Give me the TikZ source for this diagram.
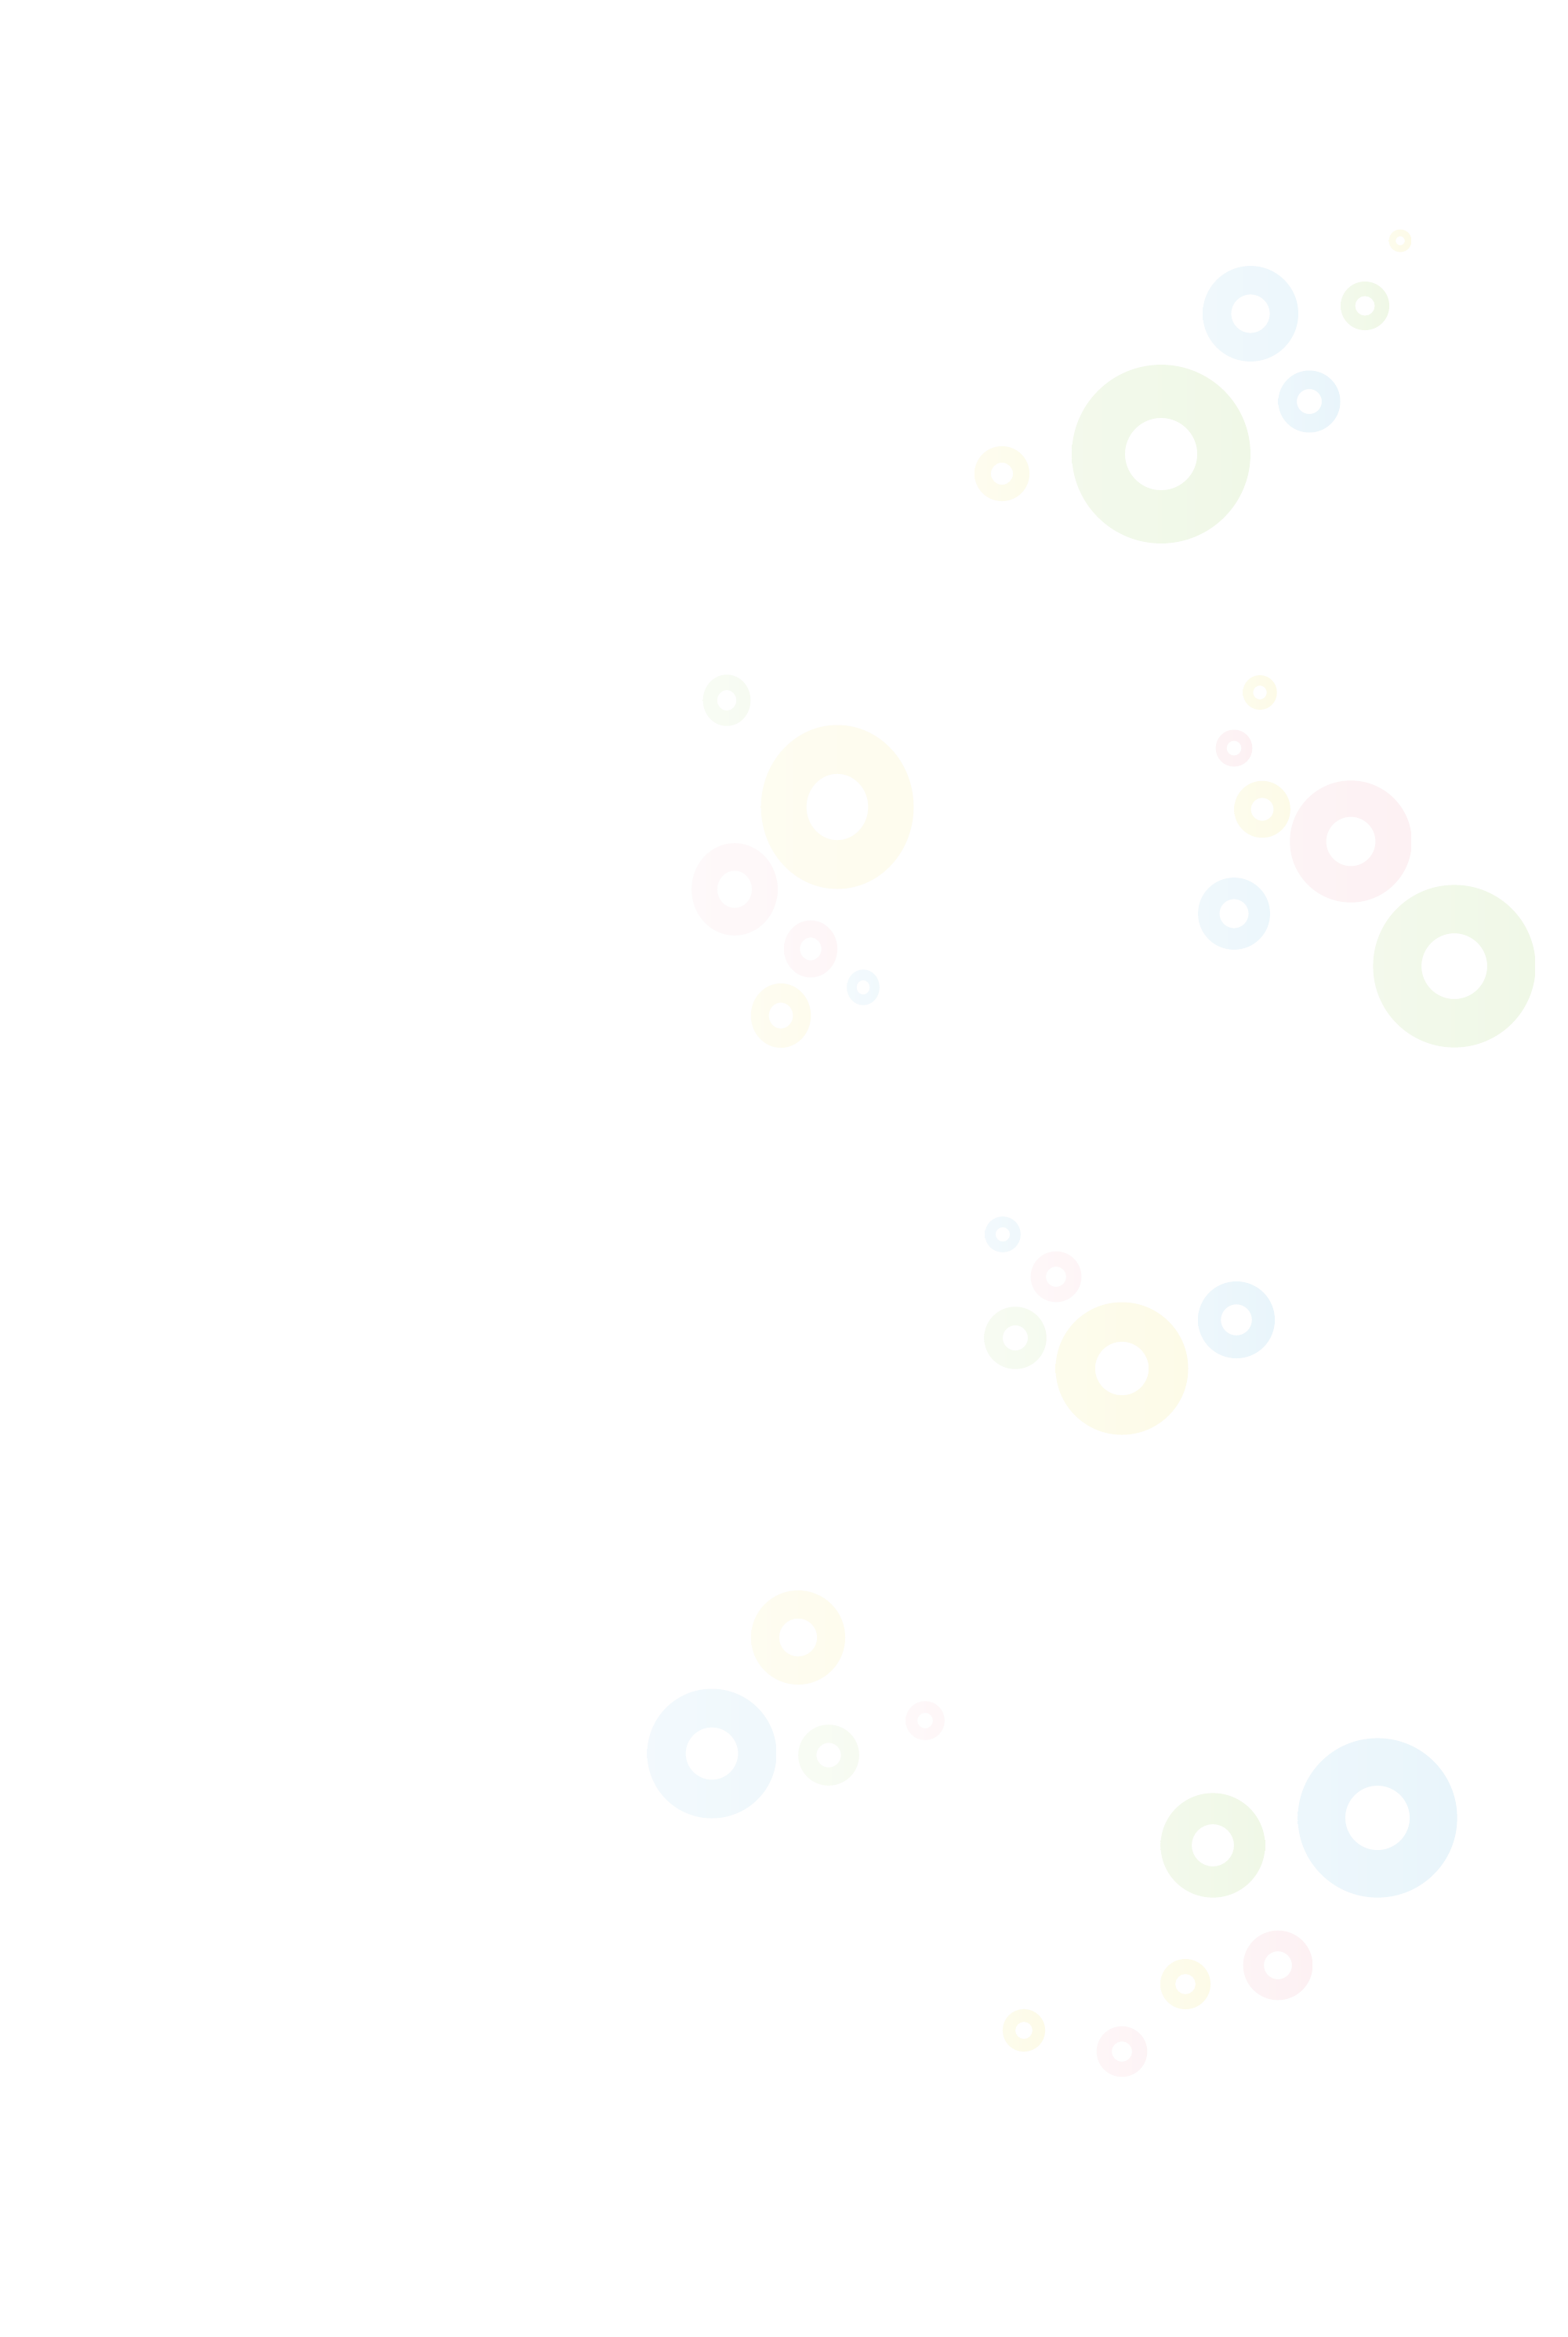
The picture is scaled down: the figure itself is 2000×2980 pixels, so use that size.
\documentclass[tikz,border=0pt]{standalone}
\definecolor{bgreen}{RGB}{240,248,231}
\definecolor{bblue}{RGB}{233,245,251}
\definecolor{byellow}{RGB}{253,251,232}
\definecolor{bpink}{RGB}{253,241,243}
% \bubble{x}{y}{outer x radius}{outer y radius}{colour}
\newcommand{\bubble}[5]{%
  \colorlet{bubtmp}{#5}%
  \shade[even odd rule, left color=bubtmp!80, right color=bubtmp]
    (#1,#2) ellipse [x radius=#3pt, y radius=#4pt]
    (#1,#2) ellipse [x radius={0.405*#3pt}, y radius={0.405*#4pt}];%
}
\begin{document}
\begin{tikzpicture}[x=1pt,y=-1pt]
\useasboundingbox[fill=white] (0,0) rectangle (2000,2980);
% top cluster
\bubble{1786}{307}{14.4}{14.4}{byellow}
\bubble{1595}{400}{60.9}{60.9}{bblue!85}
\bubble{1741}{390}{31}{31}{bgreen}
\bubble{1670}{512}{39.5}{39.5}{bblue}
\bubble{1481}{579}{113.9}{113.9}{bgreen}
\bubble{1278}{604}{35}{35}{byellow!85}
% left cluster
\bubble{927}{893}{30.3}{32.7}{bgreen!55}
\bubble{1068}{1029}{97.3}{104.5}{byellow!75}
\bubble{937}{1134}{54.8}{58.8}{bpink!55}
\bubble{1034}{1210}{34}{36.3}{bpink!65}
\bubble{1101}{1259}{20.8}{22.7}{bblue!65}
\bubble{996}{1295}{38.2}{41}{byellow!75}
% right cluster
\bubble{1607}{883}{21.7}{22}{byellow}
\bubble{1574}{954}{23.3}{23.5}{bpink}
\bubble{1610}{1032}{35.8}{36.2}{byellow}
\bubble{1723}{1073}{77.7}{77.7}{bpink}
\bubble{1574}{1165}{45.9}{45.9}{bblue!85}
\bubble{1855}{1232}{103.6}{103.6}{bgreen}
% middle cluster
\bubble{1279}{1574}{22.8}{22.8}{bblue!70}
\bubble{1347}{1628}{32.3}{32.3}{bpink!70}
\bubble{1295}{1706}{39.7}{39.7}{bgreen!65}
\bubble{1431}{1745}{84.5}{84.5}{byellow}
\bubble{1577}{1683}{49}{49}{bblue}
% lower left cluster
\bubble{1018}{2088}{60}{60}{byellow!75}
\bubble{908}{2236}{82.5}{82.5}{bblue!70}
\bubble{1057}{2238}{38.8}{38.8}{bgreen!55}
\bubble{1180}{2194}{24.8}{24.8}{bpink!60}
% lower right cluster
\bubble{1757}{2318}{101.6}{101.6}{bblue}
\bubble{1547}{2353}{66.6}{66.6}{bgreen}
\bubble{1630}{2506}{44.3}{44.3}{bpink}
\bubble{1512}{2530}{32}{32}{byellow}
\bubble{1306}{2589}{27.1}{27.1}{byellow}
\bubble{1431}{2616}{32.2}{32.2}{bpink!80}
\end{tikzpicture}
\end{document}
